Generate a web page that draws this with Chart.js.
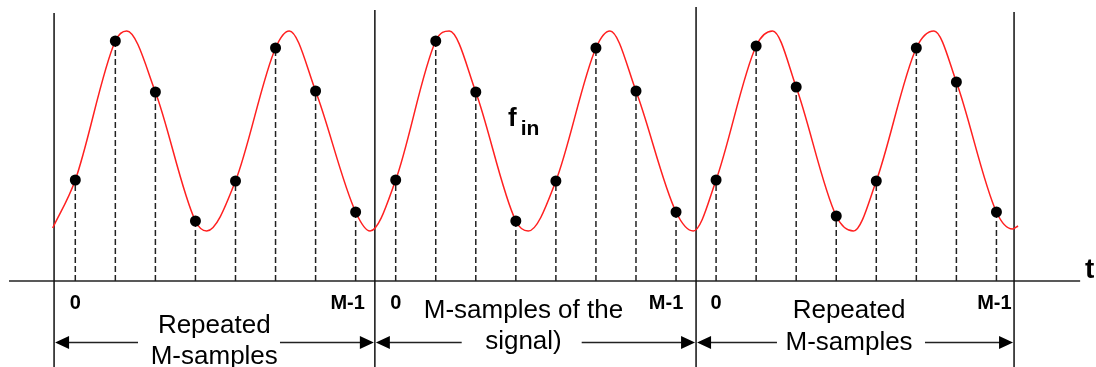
<!DOCTYPE html>
<html>
<head>
<meta charset="utf-8">
<script src="https://cdn.jsdelivr.net/npm/chart.js@4.4.1/dist/chart.umd.min.js"></script>
<style>
html,body{margin:0;padding:0;background:#ffffff;overflow:hidden}
#wrap{width:1096px;height:367px;position:relative}
</style>
</head>
<body>
<div id="wrap"><canvas id="c"></canvas></div>
<script>
// ---- data ----
// sample index (t) and sampled amplitude of the M samples in each of the three blocks
const sampleT = [0, 1, 2, 3, 4, 5, 6, 7, 8, 9, 10, 11, 12, 13, 14, 15, 16, 17, 18, 19, 20, 21, 22, 23];
const sampleV = [101, 240, 189, 60, 100, 233, 190, 69,
                 101, 240, 189, 60, 100, 233, 190, 69,
                 101, 235, 194, 65, 100, 233, 199, 69];
// continuous input signal f_in (samples, peaks, troughs)
const curveT = [-0.564, 0, 1, 1.283, 2, 3, 3.28, 4, 5, 5.343, 6, 7, 7.36,
                8, 9, 9.338, 10, 11, 11.31, 12, 13, 13.35, 14, 15, 15.43,
                16, 17, 17.41, 18, 19, 19.43, 20, 21, 21.44, 22, 23, 23.4, 23.54];
const curveV = [53, 101, 240, 250, 189, 60, 50, 100, 233, 250, 190, 69, 50,
                101, 240, 250, 189, 60, 50, 100, 233, 250, 190, 69, 50,
                101, 235, 250, 194, 65, 50, 100, 233, 250, 199, 69, 52, 55];
// block boundaries (in sample units) and the height of each boundary line
const boundaryT = [-0.53, 7.48, 15.5, 23.44];
const boundaryTopV = [268, 271, 274, 269];
// tick labels under the time axis (first and last sample of each block)
const tickLabels = ['0', 'M-1'];
const firstSampleT = [0, 8, 16];
const lastSampleT = [7, 15, 23];
// block captions
const blockTitles = [
  ['Repeated', 'M-samples'],
  ['M-samples of the', 'signal)'],
  ['Repeated', 'M-samples']
];
const signalName = ['f', 'in'];
const axisName = 't';
const axisExtentT = [-1.655, 25.09];

// ---- chart ----
const pt = (xs, ys) => xs.map((x, i) => ({x: x, y: ys[i]}));
const stems = [];
sampleT.forEach((t, i) => { stems.push({x: t, y: 0}, {x: t, y: sampleV[i]}, {x: t, y: null}); });
const walls = [];
boundaryT.forEach((t, i) => { walls.push({x: t, y: -90}, {x: t, y: boundaryTopV[i]}, {x: t, y: null}); });

const layoutCfg = {
  arrowV: -60.7,
  arrowGaps: [[1.566, 5.111], [9.648, 12.644], [17.52, 21.216]],
  titleCenters: [3.47, 11.19, 19.32],
  titleBaselinesV: [[-52, -83], [-37, -68], [-37, -69]],
  tickBaselineV: -28,
  lastShiftPx: [-8, -10, -2]
};

const annot = {
  id: 'annot',
  afterDatasetsDraw(chart) {
    const ctx = chart.ctx, xs = chart.scales.x, ys = chart.scales.y;
    ctx.save();
    ctx.fillStyle = '#000';
    ctx.strokeStyle = '#222';
    ctx.lineWidth = 1.5;
    // double arrows spanning each block
    const ay = Math.round(ys.getPixelForValue(layoutCfg.arrowV)) + 0.5;
    for (let i = 0; i < 3; i++) {
      const l = xs.getPixelForValue(boundaryT[i]);
      const r = xs.getPixelForValue(boundaryT[i + 1]);
      const gl = xs.getPixelForValue(layoutCfg.arrowGaps[i][0]);
      const gr = xs.getPixelForValue(layoutCfg.arrowGaps[i][1]);
      ctx.beginPath();
      ctx.moveTo(l + 6, ay); ctx.lineTo(gl, ay);
      ctx.moveTo(gr, ay); ctx.lineTo(r - 6, ay);
      ctx.stroke();
      ctx.beginPath();
      ctx.moveTo(l + 1, ay); ctx.lineTo(l + 15, ay - 6.5); ctx.lineTo(l + 15, ay + 6.5); ctx.closePath();
      ctx.moveTo(r - 1, ay); ctx.lineTo(r - 15, ay - 6.5); ctx.lineTo(r - 15, ay + 6.5); ctx.closePath();
      ctx.fill();
    }
    // tick labels
    ctx.font = 'bold 20px "Liberation Sans", Arial, sans-serif';
    ctx.textAlign = 'center';
    ctx.textBaseline = 'alphabetic';
    const tb = ys.getPixelForValue(layoutCfg.tickBaselineV);
    firstSampleT.forEach(t => ctx.fillText(tickLabels[0], xs.getPixelForValue(t), tb));
    lastSampleT.forEach((t, i) => ctx.fillText(tickLabels[1], xs.getPixelForValue(t) + layoutCfg.lastShiftPx[i], tb));
    // block captions
    ctx.font = '26px "Liberation Sans", Arial, sans-serif';
    blockTitles.forEach((lines, i) => {
      const cx = xs.getPixelForValue(layoutCfg.titleCenters[i]);
      lines.forEach((s, j) => ctx.fillText(s, cx, ys.getPixelForValue(layoutCfg.titleBaselinesV[i][j])));
    });
    // signal name f_in
    ctx.textAlign = 'left';
    ctx.font = 'bold 26px "Liberation Sans", Arial, sans-serif';
    ctx.fillText(signalName[0], xs.getPixelForValue(10.805), ys.getPixelForValue(155));
    ctx.font = 'bold 21px "Liberation Sans", Arial, sans-serif';
    ctx.fillText(signalName[1], xs.getPixelForValue(11.12), ys.getPixelForValue(146));
    // axis name
    ctx.font = 'bold 28px "Liberation Sans", Arial, sans-serif';
    ctx.fillText(axisName, xs.getPixelForValue(25.21), ys.getPixelForValue(3));
    ctx.restore();
  }
};

new Chart(document.getElementById('c'), {
  type: 'line',
  data: {
    datasets: [
      { label: 'samples', data: pt(sampleT, sampleV), showLine: false,
        pointRadius: 5.5, pointBackgroundColor: '#000', pointBorderColor: '#000', pointBorderWidth: 0, order: 0 },
      { label: 'f_in', data: pt(curveT, curveV), borderColor: '#ff2020', borderWidth: 1.5,
        pointRadius: 0, cubicInterpolationMode: 'monotone', order: 1 },
      { label: 'stems', data: stems, borderColor: '#222', borderWidth: 1.5, borderDash: [6, 3],
        pointRadius: 0, spanGaps: false, order: 2 },
      { label: 'boundaries', data: walls, borderColor: '#111', borderWidth: 1.5,
        pointRadius: 0, spanGaps: false, order: 3 },
      { label: 'axis', data: pt(axisExtentT, [0, 0]), borderColor: '#222', borderWidth: 1.5,
        pointRadius: 0, order: 4 }
    ]
  },
  options: {
    responsive: true,
    maintainAspectRatio: false,
    animation: false,
    events: [],
    layout: { padding: 0, autoPadding: false },
    plugins: { legend: { display: false }, tooltip: { enabled: false } },
    elements: { line: { fill: false } },
    scales: {
      x: { type: 'linear', min: -1.88, max: 25.486, display: false },
      y: { type: 'linear', min: -86, max: 281, display: false }
    }
  },
  plugins: [annot]
});
</script>
</body>
</html>
